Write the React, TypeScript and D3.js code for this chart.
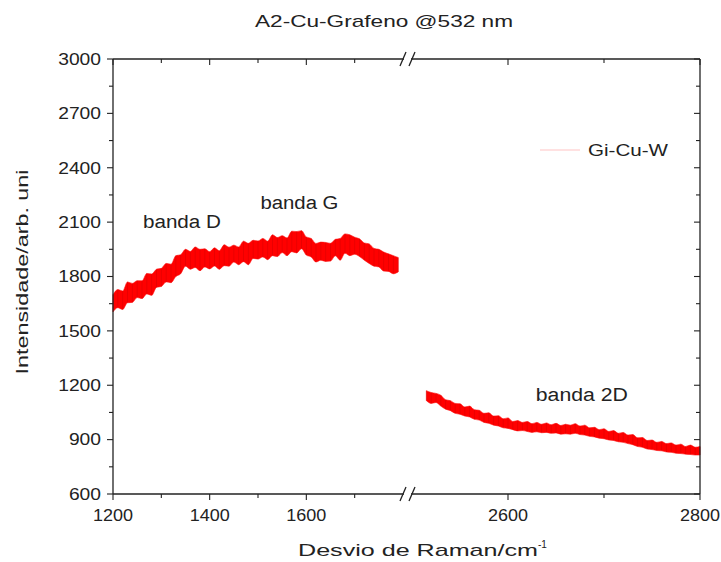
import React from "react";
import * as d3 from "d3";

const title = "A2-Cu-Grafeno @532 nm";
const yLabel = "Intensidade/arb. uni";
const xLabelMain = "Desvio de Raman/cm";
const xLabelSup = "-1";
const legendLabel = "Gi-Cu-W";

const yTicks = [600, 900, 1200, 1500, 1800, 2100, 2400, 2700, 3000];
const yMinor = [750, 1050, 1350, 1650, 1950, 2250, 2550, 2850];
const xLeftTicks = [1200, 1400, 1600];
const xLeftMinor = [1300, 1500, 1700];
const xRightTicks = [2600, 2800];
const xRightMinor = [2700];

const leftShift = [1200,1210,1220,1230,1240,1250,1260,1270,1280,1290,1300,1310,1320,1330,1340,1350,1360,1370,1380,1390,1400,1410,1420,1430,1440,1450,1460,1470,1480,1490,1500,1510,1520,1530,1540,1550,1560,1570,1580,1590,1600,1610,1620,1630,1640,1650,1660,1670,1680,1690,1700,1710,1720,1730,1740,1750,1760,1770,1780,1790];
const leftHigh = [1700,1728,1720,1770,1762,1777,1776,1817,1814,1840,1845,1872,1868,1915,1920,1950,1938,1963,1950,1953,1937,1958,1942,1975,1962,1973,1963,1995,1983,2000,1996,2010,1995,2030,2015,2025,2013,2050,2048,2053,2018,2010,1982,1990,1988,1983,2005,2010,2035,2030,2017,2008,1985,1980,1955,1950,1935,1925,1915,1905];
const leftLow = [1605,1628,1618,1655,1657,1684,1678,1704,1696,1740,1745,1770,1766,1800,1815,1857,1840,1850,1832,1853,1842,1858,1840,1860,1857,1880,1865,1882,1865,1900,1896,1908,1893,1915,1910,1932,1915,1937,1930,1953,1918,1908,1880,1890,1883,1885,1914,1890,1928,1915,1923,1910,1890,1872,1857,1853,1830,1828,1815,1825];

const rightShift = [2515,2520,2525,2530,2535,2540,2545,2550,2555,2560,2565,2570,2575,2580,2585,2590,2595,2600,2605,2610,2615,2620,2625,2630,2635,2640,2645,2650,2655,2660,2665,2670,2675,2680,2685,2690,2695,2700,2705,2710,2715,2720,2725,2730,2735,2740,2745,2750,2755,2760,2765,2770,2775,2780,2785,2790,2795,2800];
const rightHigh = [1170,1160,1155,1145,1120,1115,1100,1098,1080,1085,1065,1062,1045,1048,1030,1032,1015,1020,1000,1005,995,1000,988,995,985,992,982,990,978,985,980,988,975,980,965,968,955,960,945,950,935,940,925,928,910,912,895,898,885,890,878,882,870,875,862,870,858,862];
const rightLow = [1115,1100,1105,1085,1068,1060,1045,1040,1030,1025,1012,1008,995,990,980,975,965,962,955,948,950,945,940,943,938,940,935,937,930,932,930,935,928,925,918,915,908,905,898,895,888,885,878,872,862,858,848,845,840,838,832,830,825,823,820,818,815,815];

const annotations = [
  { text: "banda D", shift: 1262, value: 2070 },
  { text: "banda G", shift: 1505, value: 2170 },
  { text: "banda 2D", shift: 2629, value: 1115 },
];

const FONT = "'Liberation Sans', Arial, sans-serif";

export default function App() {
  const W = 721, H = 562;
  const left = 113, right = 700, top = 59, bottom = 494;
  const brkL = 403, brkR = 412;
  const y = d3.scaleLinear().domain([600, 3000]).range([bottom, top]);
  const xL = d3.scaleLinear().domain([1200, 1800]).range([left, brkL]);
  const xR = d3.scaleLinear().domain([2500, 2800]).range([brkR, right]);
  const xAny = (v: number) => (v < 2000 ? xL(v) : xR(v));

  const leftData = leftShift.map((s, i) => ({ s, hi: leftHigh[i], lo: leftLow[i] }));
  const rightData = rightShift.map((s, i) => ({ s, hi: rightHigh[i], lo: rightLow[i] }));
  const areaL = d3.area<any>().x(d => xL(d.s)).y0(d => y(d.lo)).y1(d => y(d.hi)).curve(d3.curveMonotoneX);
  const areaR = d3.area<any>().x(d => xR(d.s)).y0(d => y(d.lo)).y1(d => y(d.hi)).curve(d3.curveMonotoneX);

  const axisColor = "#222";
  const textColor = "#222";
  const major = 6, minor = 3;

  const xMajors = [...xLeftTicks.map(v => xL(v)), ...xRightTicks.map(v => xR(v))];
  const xMinors = [...xLeftMinor.map(v => xL(v)), ...xRightMinor.map(v => xR(v))];

  return (
    <svg width={W} height={H} style={{ position: "absolute", left: 0, top: 0, background: "#fff" }} fontFamily={FONT}>
      <rect width={W} height={H} fill="#fff" />
      <text x={384} y={27} textAnchor="middle" fontSize={17} fill={textColor} textLength={258} lengthAdjust="spacingAndGlyphs">{title}</text>

      {/* data */}
      <path d={areaL(leftData) || ""} fill="#ff0000" stroke="#ff1010" strokeWidth={0.6} />
      <path d={areaR(rightData) || ""} fill="#ff0000" stroke="#ff1010" strokeWidth={0.6} />
      <g stroke="#c80000" strokeWidth={0.7} strokeOpacity={0.55}>
        {leftData.map((d, i) => (
          <line key={"lv" + i} x1={xL(d.s)} x2={xL(d.s)} y1={y(d.lo)} y2={y(d.hi)} />
        ))}
        {rightData.map((d, i) => (
          <line key={"rv" + i} x1={xR(d.s)} x2={xR(d.s)} y1={y(d.lo)} y2={y(d.hi)} />
        ))}
      </g>

      {/* frame */}
      <g stroke={axisColor} strokeWidth={1.3} fill="none">
        <line x1={left} x2={right} y1={top} y2={top} />
        <line x1={left} x2={right} y1={bottom} y2={bottom} />
        <line x1={left} x2={left} y1={top} y2={bottom} />
        <line x1={right} x2={right} y1={top} y2={bottom} />
      </g>

      {/* ticks */}
      <g stroke={axisColor} strokeWidth={1.1}>
        {yTicks.map(v => (
          <g key={"yt" + v}>
            <line x1={left - major} x2={left} y1={y(v)} y2={y(v)} />
            <line x1={right - major} x2={right} y1={y(v)} y2={y(v)} />
          </g>
        ))}
        {yMinor.map(v => (
          <g key={"ym" + v}>
            <line x1={left - minor - 1} x2={left} y1={y(v)} y2={y(v)} />
            <line x1={right - minor - 1} x2={right} y1={y(v)} y2={y(v)} />
          </g>
        ))}
        {xMajors.map((px, i) => (
          <g key={"xt" + i}>
            <line x1={px} x2={px} y1={bottom} y2={bottom + major} />
            <line x1={px} x2={px} y1={top} y2={top + major} />
          </g>
        ))}
        {xMinors.map((px, i) => (
          <g key={"xm" + i}>
            <line x1={px} x2={px} y1={bottom} y2={bottom + minor + 1} />
            <line x1={px} x2={px} y1={top} y2={top + minor + 1} />
          </g>
        ))}
      </g>

      {/* break marks */}
      {[top, bottom].map(yy => (
        <g key={"brk" + yy} stroke={axisColor} strokeWidth={1.3}>
          <rect x={brkL + 1} y={yy - 2} width={brkR - brkL - 2} height={4} fill="#fff" stroke="none" />
          <line x1={brkL - 3} x2={brkL + 3} y1={yy + 7} y2={yy - 7} />
          <line x1={brkR - 3} x2={brkR + 3} y1={yy + 7} y2={yy - 7} />
        </g>
      ))}

      {/* tick labels */}
      <g fontSize={16} fill={textColor}>
        {yTicks.map(v => (
          <text key={"yl" + v} x={101} y={y(v)} dy="0.36em" textAnchor="end"
            textLength={String(v).length * 10.7} lengthAdjust="spacingAndGlyphs">{v}</text>
        ))}
        {[...xLeftTicks, ...xRightTicks].map(v => (
          <text key={"xl" + v} x={xAny(v)} y={521} textAnchor="middle"
            textLength={40} lengthAdjust="spacingAndGlyphs">{v}</text>
        ))}
      </g>

      {/* axis titles */}
      <text x={298} y={556} fontSize={17} fill={textColor}>
        <tspan textLength={240} lengthAdjust="spacingAndGlyphs">{xLabelMain}</tspan>
        <tspan fontSize={10} dy={-8}>{xLabelSup}</tspan>
      </text>
      <text transform={`translate(28,272) rotate(-90)`} textAnchor="middle" fontSize={17} fill={textColor}
        textLength={205} lengthAdjust="spacingAndGlyphs">{yLabel}</text>

      {/* legend */}
      <line x1={540} x2={580} y1={150} y2={150} stroke="#ff0000" strokeWidth={0.6} strokeOpacity={0.4} />
      <text x={588} y={156} fontSize={17} fill={textColor} textLength={80} lengthAdjust="spacingAndGlyphs">{legendLabel}</text>

      {/* annotations */}
      {annotations.map(a => (
        <text key={a.text} x={xAny(a.shift)} y={y(a.value)} fontSize={18} fill={textColor}
          textLength={a.text.length === 7 ? 78 : 92} lengthAdjust="spacingAndGlyphs">{a.text}</text>
      ))}
    </svg>
  );
}
